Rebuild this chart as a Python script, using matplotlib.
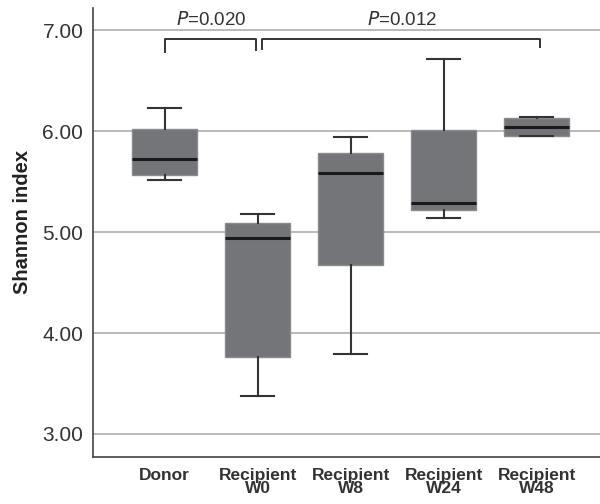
import matplotlib
matplotlib.use("Agg")
import matplotlib.pyplot as plt

plt.rcParams['font.family'] = ['Liberation Sans', 'DejaVu Sans']

categories = ["Donor", "Recipient\nW0", "Recipient\nW8", "Recipient\nW24", "Recipient\nW48"]
whislo = [5.52, 3.38, 3.79, 5.14, 5.95]
q1 = [5.57, 3.76, 4.67, 5.22, 5.95]
med = [5.72, 4.94, 5.59, 5.29, 6.04]
q3 = [6.02, 5.09, 5.78, 6.01, 6.13]
whishi = [6.23, 5.18, 5.94, 6.72, 6.14]
yticks = [3.0, 4.0, 5.0, 6.0, 7.0]

fig = plt.figure(figsize=(6.0, 5.04), dpi=100)
ax = fig.add_axes([0.155, 0.093, 0.845, 0.891])

stats = []
for i in range(len(categories)):
    stats.append(dict(whislo=whislo[i], q1=q1[i], med=med[i], q3=q3[i],
                      whishi=whishi[i], fliers=[], label=categories[i]))

pos = list(range(len(categories)))
ax.bxp(stats, positions=pos, widths=0.7, patch_artist=True, showfliers=False,
       boxprops=dict(facecolor='#747579', edgecolor='#8a8b8f', linewidth=1.0),
       medianprops=dict(color='#1a1a1a', linewidth=2.2),
       whiskerprops=dict(color='#333333', linewidth=1.5),
       capprops=dict(color='#333333', linewidth=1.5),
       capwidths=0.35, zorder=3)

ax.set_xlim(-0.77, 4.68)
ax.set_ylim(2.77, 7.22)
ax.set_yticks(yticks)
ax.set_yticklabels([f"{v:.2f}" for v in yticks], fontsize=15, color='#333333')
ax.set_xticks(pos)
ax.set_xticklabels(categories, fontsize=12.5, fontweight='bold', color='#333333', linespacing=0.8)
ax.tick_params(axis='y', length=0, pad=7)
ax.tick_params(axis='x', length=0, pad=8)
ax.yaxis.grid(True, color='#b4b4b4', linewidth=1.3, zorder=0)
ax.set_axisbelow(True)
for s in ['top', 'right']:
    ax.spines[s].set_visible(False)
for s in ['left', 'bottom']:
    ax.spines[s].set_color('#444444')
    ax.spines[s].set_linewidth(1.2)
fig.text(23 / 600, 1 - 222 / 504, "Shannon index", rotation=90, ha='center', va='center',
         fontsize=14.5, fontweight='bold', color='#222222')

# significance brackets
bc = '#333333'
ax.plot([0, 0, 0.98, 0.98], [6.78, 6.91, 6.91, 6.80], color=bc, lw=1.4, clip_on=False)
ax.plot([1.05, 1.05, 4.03, 4.03], [6.81, 6.91, 6.91, 6.83], color=bc, lw=1.4, clip_on=False)
ax.text(0.5, 7.01, r"$\mathit{P}$=0.020", ha='center', va='bottom', fontsize=13.5, color='#333333')
ax.text(2.55, 7.01, r"$\mathit{P}$=0.012", ha='center', va='bottom', fontsize=13.5, color='#333333')

fig.savefig("out.png", dpi=100)
